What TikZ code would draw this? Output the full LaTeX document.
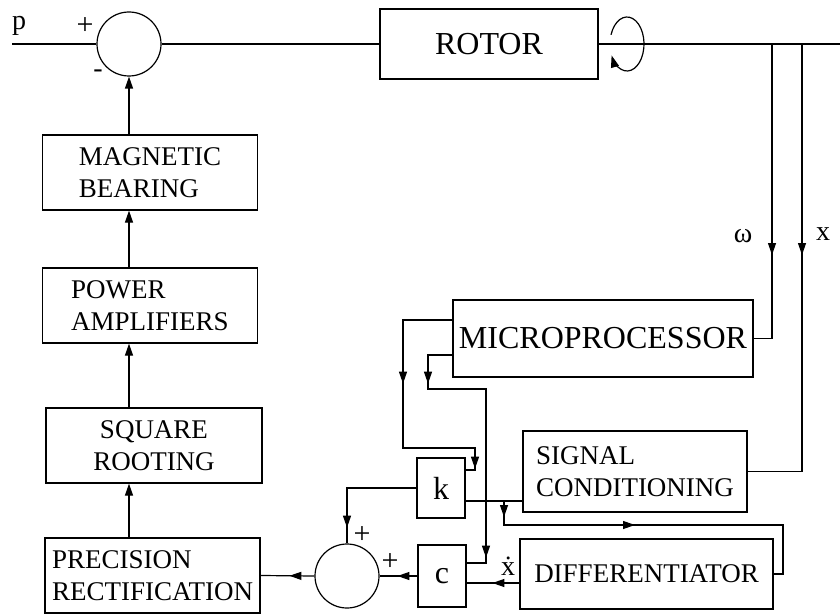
\documentclass[tikz,border=0pt]{standalone}
\usepackage{fontspec}
\setmainfont{Liberation Serif}
\usetikzlibrary{arrows.meta,decorations.markings}
\newcommand\arrowhd{\arrow{Triangle[length=12pt,width=8pt]}}
\tikzset{
  ln/.style={line width=1.2pt},
  box/.style={draw, line width=1.2pt, inner sep=0pt, align=left, font=\fontsize{27}{32}\selectfont},
  bigbox/.style={box, font=\fontsize{32}{36}\selectfont},
  sumnode/.style={draw, circle, line width=1.2pt, minimum size=64pt, inner sep=0pt},
  arr/.style={ln, -{Triangle[length=12pt,width=8pt]}},
  lbl/.style={font=\fontsize{28}{32}\selectfont, inner sep=0pt},
}
\begin{document}
\begin{tikzpicture}[x=1pt,y=-1pt]
\useasboundingbox (0,0) rectangle (840,615);
% nodes
\node[sumnode] (sum1) at (129,44) {};
\node[bigbox, minimum width=218pt, minimum height=70pt] (rotor) at (489,44) {ROTOR};
\node[box, minimum width=215pt, minimum height=75pt] (mag) at (150,172.5) {MAGNETIC\\BEARING};
\node[box, minimum width=215pt, minimum height=75pt] (pow) at (150,305.5) {POWER\\AMPLIFIERS};
\node[box, align=center, minimum width=216pt, minimum height=75pt] (sq) at (154,445.5) {SQUARE\\ROOTING};
\node[box, minimum width=215pt, minimum height=75pt] (prec) at (152.5,575.5) {PRECISION\\RECTIFICATION};
\node[bigbox, minimum width=300pt, minimum height=77pt] (micro) at (603,338.5) {MICROPROCESSOR};
\node[box, minimum width=224pt, minimum height=81pt] (sig) at (635,471.5) {SIGNAL\\CONDITIONING};
\node[box, minimum width=253pt, minimum height=70pt] (diff) at (646.5,574) {DIFFERENTIATOR};
\node[bigbox, minimum width=48pt, minimum height=60pt] (k) at (441,488) {k};
\node[bigbox, minimum width=48pt, minimum height=62pt] (c) at (442,576) {c};
\node[sumnode] (sum2) at (347,576) {};
% coordinates
\coordinate (pin) at (12,44);
\coordinate (pout) at (840,44);
\coordinate (wtap) at (772,44);
\coordinate (xtap) at (802,44);
\coordinate (br) at (504,501);
% labels
\node[lbl, anchor=base west] (plbl) at (12,30) {p};
\node[lbl, font=\fontsize{30}{32}\selectfont] (plus1) at (85,26) {+};
\node[lbl] (minus1) at (98,74) {-};
\node[lbl] (wlbl) at (743,236) {ω};
\node[lbl] (xlbl) at (823,234) {x};
\node[lbl] (xdot) at (508,566) {\.{x}};
\node[lbl, font=\fontsize{30}{32}\selectfont] (plus2) at (362,535) {+};
\node[lbl, font=\fontsize{30}{32}\selectfont] (plus3) at (390,562) {+};
% main line
\draw[ln] (pin) -- (sum1.west);
\draw[ln] (sum1.east) -- (rotor.west);
\draw[ln] (rotor.east) -- (pout);
% rotation symbol
\draw[arr] (627,44) ++(200:17 and 27) arc[start angle=200, end angle=515, x radius=17, y radius=27];
% left column
\draw[arr] (sum1 |- mag.north) -- (sum1.south);
\draw[arr] (sum1 |- pow.north) -- (sum1 |- mag.south);
\draw[arr] (sum1 |- sq.north) -- (sum1 |- pow.south);
\draw[arr] (sum1 |- prec.north) -- (sum1 |- sq.south);
% omega and x taps
\draw[ln, postaction={decorate}, decoration={markings, mark=at position 211pt with {\arrowhd}}]
  (wtap) |- (micro.east);
\draw[ln, postaction={decorate}, decoration={markings, mark=at position 211pt with {\arrowhd}}]
  (xtap) |- (sig.east);
% microprocessor outputs
\draw[ln, postaction={decorate}, decoration={markings, mark=at position 113pt with {\arrowhd}, mark=at position 270pt with {\arrowhd}}]
  ([yshift=18.5pt]micro.west) -- (403,320) -- (403,448) -- (475,448) -- (475,470) -- ([yshift=18pt]k.east);
\draw[ln, postaction={decorate}, decoration={markings, mark=at position 53pt with {\arrowhd}, mark=at position 285pt with {\arrowhd}}]
  ([yshift=-16.5pt]micro.west) -- (428,355) -- (428,389) -- (486,389) -- (486,563) -- ([yshift=13pt]c.east);
% signal conditioning to k and differentiator
\draw[ln] ([yshift=-29.5pt]sig.west) -- ([yshift=-13pt]k.east);
\draw[ln, postaction={decorate}, decoration={markings, mark=at position 16pt with {\arrowhd}, mark=at position 155pt with {\arrowhd}}]
  (br) -- (504,525) -- (783,525) -- (783,574) -- (diff.east);
% differentiator to c
\draw[ln, postaction={decorate}, decoration={markings, mark=at position 27pt with {\arrowhd}}]
  ([yshift=-9pt]diff.west) -- ([yshift=-7pt]c.east);
% c and k to sum2
\draw[ln, postaction={decorate}, decoration={markings, mark=at position 20pt with {\arrowhd}}]
  (c.west) -- (sum2.east);
\draw[ln, postaction={decorate}, decoration={markings, mark=at position 109pt with {\arrowhd}}]
  (k.west) -| (sum2.north);
% sum2 to precision rectification
\draw[ln, postaction={decorate}, decoration={markings, mark=at position 25pt with {\arrowhd}}]
  (sum2.west) -- (prec.east);
\end{tikzpicture}
\end{document}
